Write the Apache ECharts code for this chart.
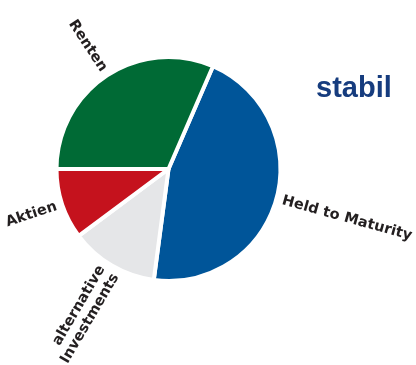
<!DOCTYPE html>
<html>
<head>
<meta charset="utf-8">
<script src="https://cdn.jsdelivr.net/npm/echarts@6/dist/echarts.min.js"></script>
<style>
  html, body { margin: 0; padding: 0; background: #fff; }
  #chart { width: 416px; height: 365px; }
</style>
</head>
<body>
<div id="chart"></div>
<script>
// clockwise from the top right edge
const categories = ['Held to Maturity', 'alternative\nInvestments', 'Aktien', 'Renten']
const shares = [45.6, 12.7, 10.2, 31.5]
const sliceColors = ['#005599', '#e5e6e8', '#c5121d', '#006a35']
const title = 'stabil'

const chart = echarts.init(document.getElementById('chart'))

chart.setOption({
  animation: false,
  title: {
    text: title,
    left: 311,
    top: 69,
    textStyle: {
      color: '#163c7e',
      fontFamily: 'Liberation Sans',
      fontWeight: 'bold',
      fontSize: 29
    }
  },
  series: [
    {
      type: 'pie',
      // wide box so the outside labels are not cut at the canvas edge
      left: -100,
      top: 0,
      width: 700,
      height: 365,
      center: [268.5, 169],
      radius: [0, 112],
      startAngle: 66.6,
      clockwise: true,
      avoidLabelOverlap: false,
      itemStyle: {
        borderColor: '#fff',
        borderWidth: 4
      },
      label: {
        show: true,
        position: 'outside',
        rotate: 'radial',
        distanceToLabelLine: 0,
        bleedMargin: 0,
        color: '#231f20',
        fontFamily: 'DejaVu Sans',
        fontWeight: 'bold',
        fontSize: 14.5,
        lineHeight: 16
      },
      labelLine: {
        show: false,
        length: 6,
        length2: 0
      },
      data: categories.map((name, i) => ({
        name: name,
        value: shares[i],
        itemStyle: { color: sliceColors[i] }
      }))
    }
  ]
})
</script>
</body>
</html>
